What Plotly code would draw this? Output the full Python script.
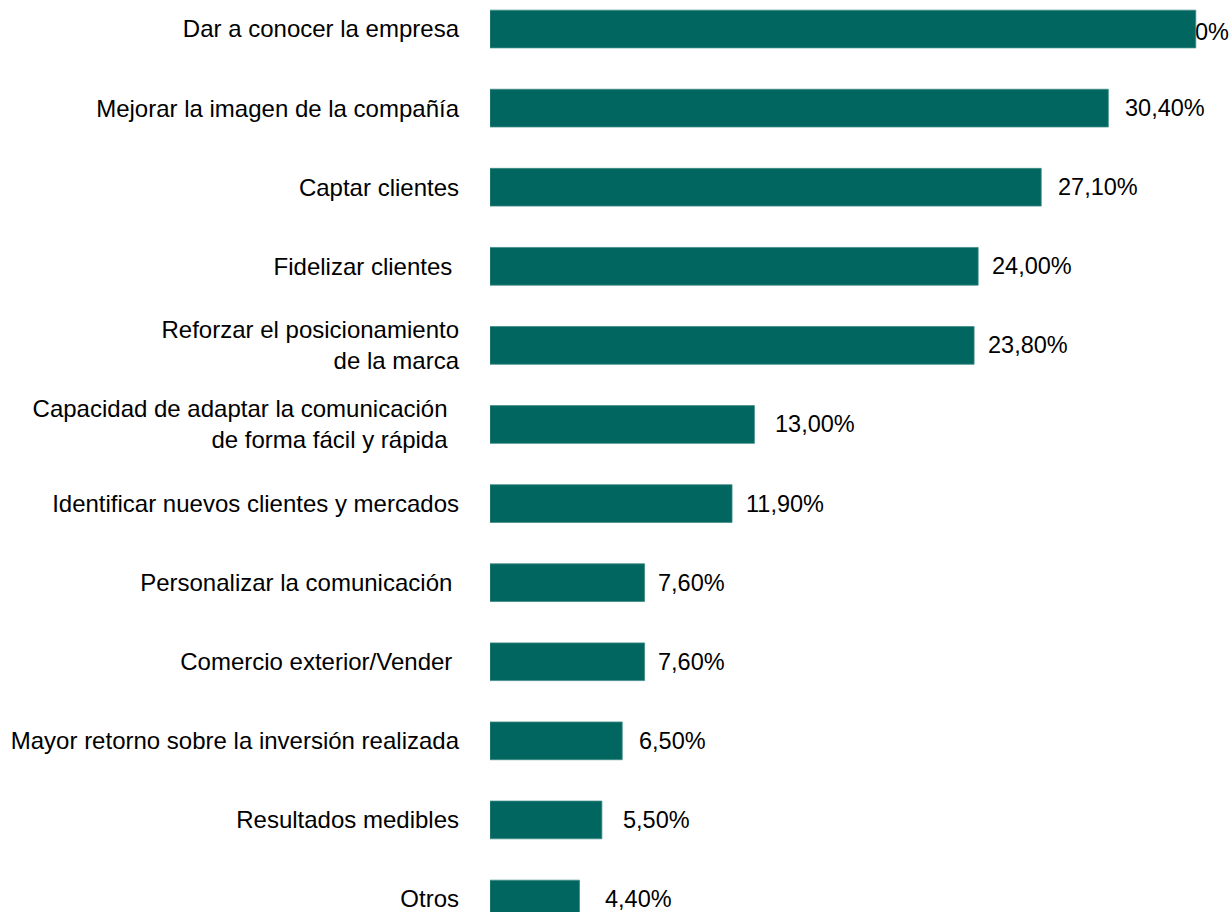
import plotly.graph_objects as go

# Objectives, listed top to bottom
categories = [
    "Dar a conocer la empresa",
    "Mejorar la imagen de la compañía",
    "Captar clientes",
    "Fidelizar clientes\u00a0",
    "Reforzar el posicionamiento<br>de la marca",
    "Capacidad de adaptar la comunicación\u00a0\u2009<br>de forma fácil y rápida\u00a0\u2009",
    "Identificar nuevos clientes y mercados",
    "Personalizar la comunicación\u00a0",
    "Comercio exterior/Vender\u00a0",
    "Mayor retorno sobre la inversión realizada",
    "Resultados medibles",
    "Otros",
]
values = [34.70, 30.40, 27.10, 24.00, 23.80, 13.00, 11.90, 7.60, 7.60, 6.50, 5.50, 4.40]
value_labels = ["34,70%", "30,40%", "27,10%", "24,00%", "23,80%", "13,00%",
                "11,90%", "7,60%", "7,60%", "6,50%", "5,50%", "4,40%"]

# Pixel gap between each bar end and its value label
label_gap = [0, 15, 15, 12, 12, 19, 12, 11, 11, 15, 19, 23]

BAR = "#00665f"
FONT = "Liberation Sans, Arial, sans-serif"
FS_TICK = 24
FS_VAL = 23.5

fig = go.Figure(
    go.Bar(
        x=values,
        y=list(range(len(categories))),
        orientation="h",
        marker=dict(color=BAR, line=dict(color="#3f8c87", width=0.8)),
        hoverinfo="skip",
    )
)

annotations = []
for i, (v, t) in enumerate(zip(values, value_labels)):
    if i == 0:
        continue
    annotations.append(dict(
        x=v, y=i, xref="x", yref="y", text=t, showarrow=False,
        xanchor="left", yanchor="middle", xshift=label_gap[i],
        font=dict(family=FONT, size=FS_VAL, color="#000000"),
    ))

# The longest bar's label sits at the right edge, underneath the bar
shapes = [dict(
    type="rect", xref="paper", yref="y", x0=0, x1=1, y0=0, y1=0,
    line=dict(width=0), fillcolor="rgba(0,0,0,0)", layer="below",
    label=dict(text=value_labels[0], textposition="middle right",
               font=dict(family=FONT, size=FS_VAL, color="#000000"), padding=0),
)]

fig.update_layout(
    width=1232, height=912,
    margin=dict(l=490, r=0, t=0, b=0),
    paper_bgcolor="white", plot_bgcolor="white",
    bargap=0.523,
    showlegend=False,
    annotations=annotations,
    shapes=shapes,
    font=dict(family=FONT, size=FS_TICK, color="#000000"),
    xaxis=dict(range=[0, 36.48], visible=False, fixedrange=True),
    yaxis=dict(
        tickmode="array",
        tickvals=list(range(len(categories))),
        ticktext=categories,
        range=[11.164, -0.367],
        showgrid=False, zeroline=False, showline=False,
        ticks="", ticklabelstandoff=30, ticklabeloverflow="allow",
        tickfont=dict(family=FONT, size=FS_TICK, color="#000000"),
        fixedrange=True,
    ),
)

fig.write_html("out.html")
